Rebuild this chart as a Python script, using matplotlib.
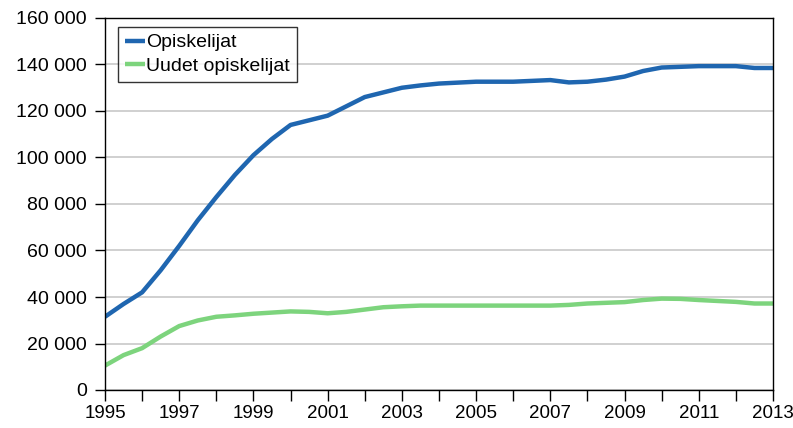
import matplotlib
matplotlib.use("Agg")
import matplotlib.pyplot as plt
from matplotlib.ticker import FuncFormatter, MultipleLocator, FixedLocator

# Data
years_blue = [1995, 1995.5, 1996, 1996.5, 1997, 1997.5, 1998, 1998.5, 1999, 1999.5,
              2000, 2000.5, 2001, 2001.5, 2002, 2002.5, 2003, 2003.5, 2004, 2005,
              2006, 2007, 2007.5, 2008, 2008.5, 2009, 2009.5, 2010, 2011, 2012,
              2012.5, 2013]
opiskelijat = [31500, 37000, 42000, 51500, 62000, 73000, 83000, 92500, 101000, 108000,
               114000, 116000, 118000, 122000, 126000, 128000, 130000, 131000, 131800, 132600,
               132600, 133300, 132300, 132600, 133500, 134800, 137200, 138700, 139300, 139300,
               138500, 138500]

years_green = [1995, 1995.5, 1996, 1996.5, 1997, 1997.5, 1998, 1998.5, 1999, 2000,
               2000.5, 2001, 2001.5, 2002, 2002.5, 2003, 2003.5, 2004, 2005, 2006,
               2007, 2007.5, 2008, 2009, 2009.5, 2010, 2010.5, 2011, 2012, 2012.5, 2013]
uudet = [10500, 15000, 18000, 23000, 27500, 29900, 31500, 32100, 32800, 33800,
         33600, 33000, 33600, 34600, 35600, 36000, 36300, 36300, 36300, 36300,
         36300, 36600, 37200, 37800, 38700, 39300, 39200, 38700, 37900, 37200, 37200]

series_labels = ["Opiskelijat", "Uudet opiskelijat"]
year_labels = [1995, 1997, 1999, 2001, 2003, 2005, 2007, 2009, 2011, 2013]
blue = "#1f66b0"
green = "#7dd47d"

plt.rcParams['font.family'] = ['Liberation Sans', 'DejaVu Sans']

fig = plt.figure(figsize=(7.93, 4.28), dpi=100)
ax = fig.add_axes([105/793, 1 - 390/428, (773-105)/793, (390-18)/428])

ax.plot(years_blue, opiskelijat, color=blue, lw=3.2, label=series_labels[0], solid_capstyle='butt')
ax.plot(years_green, uudet, color=green, lw=3.2, label=series_labels[1], solid_capstyle='butt')

ax.set_xlim(1995, 2013)
ax.set_ylim(0, 160000)
ax.yaxis.set_major_locator(MultipleLocator(20000))
ax.yaxis.set_major_formatter(FuncFormatter(lambda v, p: f"{int(v):,}".replace(",", " ")))
ax.xaxis.set_major_locator(FixedLocator(year_labels))
ax.xaxis.set_minor_locator(MultipleLocator(1))
ax.xaxis.set_major_formatter(FuncFormatter(lambda v, p: f"{int(round(v))}"))

ax.grid(axis='y', color='#c8c8c8', lw=1.2)
ax.set_axisbelow(True)
for s in ax.spines.values():
    s.set_color('black')
    s.set_linewidth(1.0)

ax.tick_params(axis='both', which='both', direction='out', colors='black')
ax.tick_params(axis='y', labelsize=14, length=7, width=1, pad=6)
ax.tick_params(axis='x', which='both', labelsize=13.5, length=8, width=1, pad=3)

leg = ax.legend(loc='upper left', bbox_to_anchor=(13/668, 1 - 9/372), fontsize=14,
                frameon=True, fancybox=False, handlelength=1.05, handletextpad=0.05,
                borderpad=0.35, labelspacing=0.3, borderaxespad=0)
leg.get_frame().set_edgecolor('black')
leg.get_frame().set_linewidth(1.0)

fig.savefig("out.png", dpi=100)
